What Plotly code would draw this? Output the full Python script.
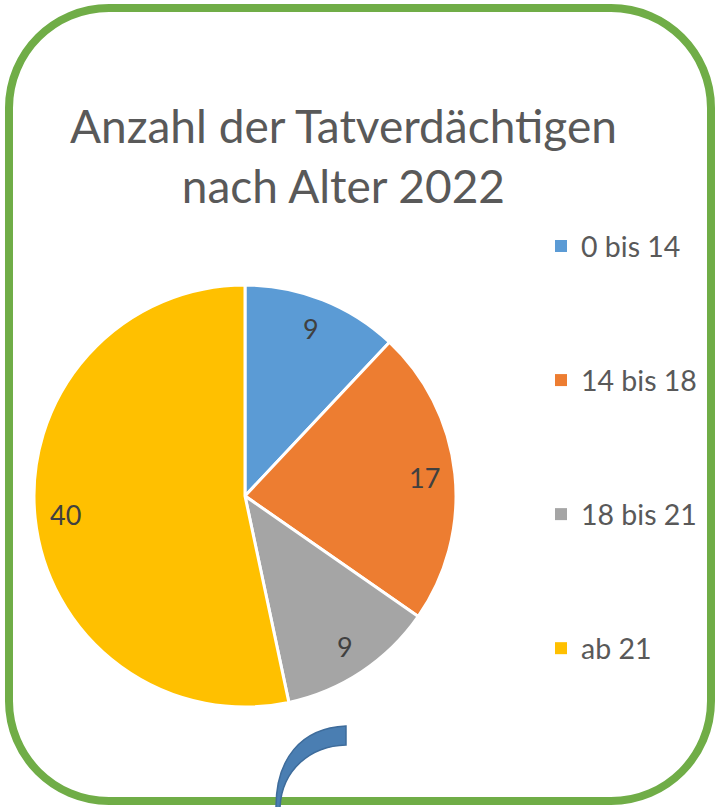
import math
import plotly.graph_objects as go

# Tatverdächtige nach Altersgruppe, 2022
categories = ["0 bis 14", "14 bis 18", "18 bis 21", "ab 21"]
counts = [9, 17, 9, 40]
colors = ["#5B9BD5", "#ED7D31", "#A5A5A5", "#FFC000"]

title_lines = ["Anzahl der Tatverdächtigen", "nach Alter 2022"]

W, H = 718, 807
FONT = "Lato, Carlito, Calibri, sans-serif"

# pie placement (pixels)
CX, CY, R = 245, 496, 211
LABEL_RADIUS = 0.855


def px(x, y):
    """Pixel position -> paper coordinates."""
    return x / W, 1 - y / H


def path_from(cmds):
    out = []
    for c in cmds:
        if isinstance(c, str):
            out.append(c)
        else:
            x, y = px(*c)
            out.append(f"{x:.5f},{y:.5f}")
    return " ".join(out)


fig = go.Figure()

fig.add_trace(go.Pie(
    labels=categories,
    values=counts,
    marker=dict(colors=colors, line=dict(color="white", width=3)),
    sort=False,
    direction="clockwise",
    rotation=0,
    textinfo="none",
    domain=dict(x=[(CX - R) / W, (CX + R) / W],
                y=[1 - (CY + R) / H, 1 - (CY - R) / H]),
    showlegend=False,
    hoverinfo="label+value",
))

# value labels at the middle angle of each slice, near the rim
total = sum(counts)
annotations = []
cum = 0
for v in counts:
    ang = math.radians(360 * (cum + v / 2) / total)
    cum += v
    lx = CX + LABEL_RADIUS * R * math.sin(ang)
    ly = CY - LABEL_RADIUS * R * math.cos(ang)
    x, y = px(lx, ly)
    annotations.append(dict(
        text=str(v), x=x, y=y, xref="paper", yref="paper",
        xanchor="center", yanchor="middle", showarrow=False,
        font=dict(family=FONT, size=27, color="#404040"),
    ))

# legend entries, spaced out with one group per category
for i, (cat, col) in enumerate(zip(categories, colors)):
    fig.add_trace(go.Scatter(
        x=[None], y=[None], mode="markers", name=cat,
        marker=dict(symbol="square", size=12, color=col),
        legendgroup=f"g{i}", showlegend=True, hoverinfo="skip",
    ))

# rounded frame
x0, y0, x1, y1, r = 9, 8, 711, 801, 100
k = 0.5523 * r
frame = path_from([
    "M", (x0 + r, y0), "L", (x1 - r, y0),
    "C", (x1 - r + k, y0), (x1, y0 + r - k), (x1, y0 + r),
    "L", (x1, y1 - r),
    "C", (x1, y1 - r + k), (x1 - r + k, y1), (x1 - r, y1),
    "L", (x0 + r, y1),
    "C", (x0 + r - k, y1), (x0, y1 - r + k), (x0, y1 - r),
    "L", (x0, y0 + r),
    "C", (x0, y0 + r - k), (x0 + r - k, y0), (x0 + r, y0),
    "Z",
])

# curved arrow stub below the pie
arrow = path_from([
    "M", (276, 812), "L", (276, 807),
    "C", (276, 760), (300, 728), (346, 726),
    "L", (346, 745),
    "C", (310, 746), (282, 770), (280, 807),
    "L", (280, 812), "Z",
])

annotations.append(dict(
    text="<br>".join(title_lines),
    x=343 / W, y=1 - 96 / H, xref="paper", yref="paper",
    xanchor="center", yanchor="top", showarrow=False,
    font=dict(family=FONT, size=46, color="#595959"),
))

fig.update_layout(
    width=W, height=H,
    margin=dict(l=0, r=0, t=0, b=0),
    paper_bgcolor="white",
    plot_bgcolor="white",
    xaxis=dict(visible=False),
    yaxis=dict(visible=False),
    shapes=[
        dict(type="path", xref="paper", yref="paper", path=frame,
             line=dict(color="#70AD47", width=8), fillcolor="rgba(0,0,0,0)"),
        dict(type="path", xref="paper", yref="paper", path=arrow,
             line=dict(color="#3E6C9B", width=1.5), fillcolor="#4A7EB2"),
    ],
    annotations=annotations,
    legend=dict(
        x=541 / W, y=1 - 221 / H, xanchor="left", yanchor="top",
        font=dict(family=FONT, size=28.5, color="#595959"),
        tracegroupgap=94, bgcolor="rgba(0,0,0,0)",
    ),
    showlegend=True,
)

fig.write_html("out.html")
